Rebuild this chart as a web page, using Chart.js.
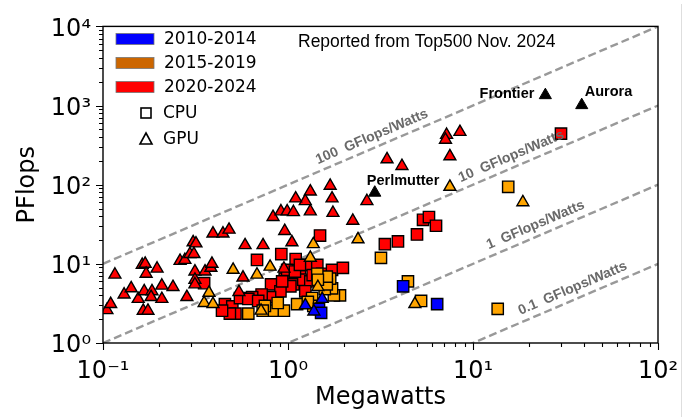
<!DOCTYPE html>
<html>
<head>
<meta charset="utf-8">
<script src="https://cdn.jsdelivr.net/npm/chart.js@4.4.0/dist/chart.umd.min.js"></script>
<style>
  html, body { margin: 0; padding: 0; background: #fff; }
  #wrap { width: 693px; height: 417px; }
</style>
</head>
<body>
<div id="wrap"><canvas id="effChart" width="693" height="417"></canvas></div>
<script>
// power (MW) vs Rmax (PFlops), Top500 Nov. 2024, split by period and architecture
const gpu2020 = [
  [0.105, 2.6], [0.11, 3.1], [0.116, 7.3], [0.13, 4.1], [0.142, 4.9], [0.155, 3.6],
  [0.163, 9.7], [0.169, 10.0], [0.171, 7.5], [0.167, 4.5], [0.184, 4.5], [0.182, 3.8],
  [0.196, 8.7], [0.208, 5.3], [0.208, 3.6], [0.165, 2.55], [0.175, 2.55], [0.239, 5.1],
  [0.261, 10.9], [0.277, 11.2], [0.295, 13.3], [0.307, 18.7], [0.318, 18.1], [0.31, 13.3],
  [0.284, 3.8], [0.314, 8.0], [0.314, 6.3], [0.314, 5.5], [0.356, 8.0], [0.383, 8.9],
  [0.388, 10.0], [0.393, 24.1], [0.445, 24.1], [0.48, 27], [0.586, 17.2], [0.733, 17.2],
  [0.571, 6.7], [0.543, 4.4], [0.951, 8.7], [0.83, 39], [0.916, 46], [0.99, 46],
  [1.07, 45], [1.32, 46], [1.75, 44], [0.96, 26], [1.05, 18.7], [1.69, 97], [1.73, 67],
  [1.32, 82], [1.24, 62], [1.10, 67], [2.24, 35], [2.67, 62], [3.43, 209], [4.13, 172],
  [7.2, 426], [7.1, 370], [8.5, 464], [7.5, 228]
];
const cpu2020 = [
  [0.352, 5.7], [0.68, 11.2], [0.92, 13.3], [0.81, 5.5], [0.96, 6.5], [1.09, 6.5],
  [1.16, 8.7], [1.49, 22.8], [1.27, 9.7], [1.10, 11.5], [0.99, 8.4], [1.07, 5.5],
  [1.21, 6.3], [1.09, 8.0], [1.44, 9.7], [1.53, 7.5], [1.73, 8.4], [1.32, 6.0],
  [1.24, 4.5], [1.03, 5.2], [0.91, 4.5], [0.80, 3.8], [0.72, 4.1], [0.64, 3.8],
  [0.456, 3.1], [0.50, 2.9], [0.52, 2.35], [0.55, 3.7], [0.61, 3.6], [0.69, 3.4],
  [0.485, 2.35], [0.44, 2.56], [1.98, 8.9], [3.34, 17.7], [3.93, 19.2], [4.98, 23.5],
  [5.37, 36], [5.78, 39], [6.31, 30.3], [1.16, 9.7], [0.93, 6.0], [1.49, 5.7], [1.36, 7.2],
  [29.899, 442.01]
];
const gpu2015 = [
  [0.374, 4.3], [0.352, 3.2], [0.393, 3.1], [0.505, 8.4], [0.68, 7.3], [0.80, 9.2],
  [1.32, 11.9], [1.37, 17.7], [1.45, 5.1], [0.715, 2.56], [2.39, 20.4], [7.5, 94],
  [18.6, 60], [4.85, 3.1]
];
const cpu2015 = [
  [15.5, 94], [13.6, 2.7], [3.18, 11.9], [4.45, 6.0], [5.24, 3.4], [1.91, 4.0],
  [1.77, 4.0], [1.73, 4.9], [1.69, 6.5], [1.58, 4.8], [1.62, 5.5], [1.62, 6.9],
  [1.44, 7.5], [1.45, 6.3], [0.61, 2.35], [0.83, 2.56], [0.95, 2.56], [0.88, 3.2],
  [0.75, 2.94], [1.12, 3.1], [1.35, 3.7], [1.37, 2.94], [0.73, 2.56], [1.28, 3.3]
];
const gpu2010 = [[1.53, 3.6], [1.24, 3.0], [1.38, 2.5]];
const cpu2010 = [[1.47, 2.7], [1.51, 2.4], [4.19, 5.2], [6.4, 3.1]];

const namedSystems = ["Frontier", "Aurora", "Perlmutter"];
const namedMW = [24.607, 38.698, 2.945];
const namedPF = [1353, 1012, 79.23];

const efficiencies = [100, 10, 1, 0.1]; // GFlops/W
const efficiencyLabels = ["100  GFlops/Watts", "10  GFlops/Watts", "1  GFlops/Watts", "0.1  GFlops/Watts"];

const mwTicks = [0.1, 1, 10, 100];
const mwTickLabels = ["10\u207B\u00B9", "10\u2070", "10\u00B9", "10\u00B2"];
const pfTicks = [1, 10, 100, 1000, 10000];
const pfTickLabels = ["10\u2070", "10\u00B9", "10\u00B2", "10\u00B3", "10\u2074"];

const periodLabels = ["2010-2014", "2015-2019", "2020-2024"];
const periodPatchColors = ["#0000ff", "#cc6600", "#ff0000"];
const archLabels = ["CPU", "GPU"];
const noteText = "Reported from Top500 Nov. 2024";

const pts = arr => arr.map(([x, y]) => ({x, y}));

function markers(data, color, shape, order) {
  return {
    data: pts(data),
    pointStyle: shape,
    pointRadius: shape === 'rect' ? 8 : 6.9,
    pointBackgroundColor: color,
    pointBorderColor: '#000',
    pointBorderWidth: 1.4,
    showLine: false,
    order: order,
  };
}

const effLines = efficiencies.map(e => ({
  data: [{x: 0.1, y: 0.1 * e}, {x: 100, y: 100 * e}],
  showLine: true,
  borderColor: '#999999',
  borderWidth: 2.4,
  borderDash: [8, 4],
  pointRadius: 0,
  clip: 0,
  order: 20,
}));

// labels along the efficiency lines, names of the big systems, legend, frame
const decor = {
  id: 'decor',
  afterDatasetsDraw(chart) {
    const {ctx, chartArea: a, scales: {x, y}} = chart;
    ctx.save();

    // efficiency line labels, rotated with the line
    const anchorMW = [3.0, 17, 23, 36.5];
    ctx.font = 'bold 14px "Liberation Sans", Arial, sans-serif';
    ctx.fillStyle = '#6a6a6a';
    ctx.textAlign = 'center';
    ctx.textBaseline = 'middle';
    efficiencies.forEach((e, i) => {
      const x1 = x.getPixelForValue(1), y1 = y.getPixelForValue(e);
      const x2 = x.getPixelForValue(10), y2 = y.getPixelForValue(10 * e);
      const ang = Math.atan2(y2 - y1, x2 - x1);
      const px = x.getPixelForValue(anchorMW[i]);
      const py = y.getPixelForValue(anchorMW[i] * e);
      const off = 11;
      ctx.save();
      ctx.translate(px + Math.sin(ang) * off, py - Math.cos(ang) * off);
      ctx.rotate(ang);
      ctx.fillText(efficiencyLabels[i], 0, 0);
      ctx.restore();
    });

    // system names
    const named = chart.getDatasetMeta(0).data;
    ctx.font = 'bold 14.5px "Liberation Sans", Arial, sans-serif';
    ctx.fillStyle = '#000';
    const place = [[-11, -1, 'right'], [3, -13, 'left'], [-8, -12, 'left']];
    named.forEach((p, i) => {
      ctx.textAlign = place[i][2];
      ctx.fillText(namedSystems[i], p.x + place[i][0], p.y + place[i][1]);
    });

    // frame
    ctx.strokeStyle = '#000';
    ctx.lineWidth = 1.4;
    ctx.strokeRect(a.left, a.top, a.right - a.left, a.bottom - a.top);

    // log tick marks, outward
    ctx.lineWidth = 1.1;
    ctx.beginPath();
    for (let e = -1; e <= 2; e++) {
      for (let k = 1; k <= 9; k++) {
        const v = k * Math.pow(10, e);
        if (v > 100.0001) break;
        const px = Math.round(x.getPixelForValue(v)) + 0.5;
        ctx.moveTo(px, a.bottom);
        ctx.lineTo(px, a.bottom + (k === 1 ? 7 : 4));
      }
    }
    for (let e = 0; e <= 4; e++) {
      for (let k = 1; k <= 9; k++) {
        const v = k * Math.pow(10, e);
        if (v > 10000.001) break;
        const py = Math.round(y.getPixelForValue(v)) + 0.5;
        ctx.moveTo(a.left, py);
        ctx.lineTo(a.left - (k === 1 ? 7 : 4), py);
      }
    }
    ctx.stroke();

    // legend
    ctx.font = '17px "DejaVu Sans", sans-serif';
    ctx.textAlign = 'left';
    ctx.textBaseline = 'middle';
    const rowY = [39, 63, 87, 113, 139];
    periodLabels.forEach((lab, i) => {
      ctx.fillStyle = periodPatchColors[i];
      ctx.fillRect(116, rowY[i] - 5.5, 38, 11);
      ctx.strokeStyle = '#777';
      ctx.lineWidth = 0.8;
      ctx.strokeRect(116, rowY[i] - 5.5, 38, 11);
      ctx.fillStyle = '#000';
      ctx.fillText(lab, 164, rowY[i] + 1);
    });
    ctx.strokeStyle = '#000';
    ctx.lineWidth = 1.6;
    ctx.strokeRect(141, rowY[3] - 5, 10, 10);
    ctx.beginPath();
    ctx.moveTo(146, rowY[4] - 6);
    ctx.lineTo(152, rowY[4] + 5);
    ctx.lineTo(140, rowY[4] + 5);
    ctx.closePath();
    ctx.stroke();
    ctx.fillStyle = '#000';
    ctx.fillText(archLabels[0], 163, rowY[3] + 1);
    ctx.fillText(archLabels[1], 163, rowY[4] + 1);

    // source note
    ctx.font = '17.5px "Liberation Sans", Arial, sans-serif';
    ctx.fillText(noteText, 298, 42);

    // thin page edge on the right
    ctx.strokeStyle = '#dedede';
    ctx.lineWidth = 1;
    ctx.beginPath();
    ctx.moveTo(681.5, 4);
    ctx.lineTo(681.5, 417);
    ctx.stroke();

    ctx.restore();
  }
};

const ctx = document.getElementById('effChart').getContext('2d');

new Chart(ctx, {
  type: 'scatter',
  data: {
    datasets: [
      {
        data: namedMW.map((v, i) => ({x: v, y: namedPF[i]})),
        pointStyle: 'triangle',
        pointRadius: 7,
        pointBackgroundColor: '#000',
        pointBorderColor: '#000',
        pointBorderWidth: 1,
        order: 0,
      },
      markers(gpu2010, '#0000ff', 'triangle', 1),
      markers(cpu2010, '#0000ff', 'rect', 2),
      markers(gpu2015, '#ffa500', 'triangle', 3),
      markers(cpu2015, '#ffa500', 'rect', 4),
      markers(gpu2020, '#ff0000', 'triangle', 5),
      markers(cpu2020, '#ff0000', 'rect', 6),
      ...effLines,
    ],
  },
  options: {
    responsive: false,
    devicePixelRatio: 1,
    animation: false,
    layout: { padding: { left: 0, right: 35, top: 20, bottom: 0 } },
    plugins: {
      legend: { display: false },
      tooltip: { enabled: false },
    },
    scales: {
      x: {
        type: 'logarithmic',
        min: 0.1,
        max: 100,
        grid: { display: false, drawTicks: false },
        border: { display: false },
        afterBuildTicks: s => { s.ticks = mwTicks.map(v => ({value: v})); },
        afterFit: s => { s.height = 74; },
        ticks: {
          autoSkip: false,
          maxRotation: 0,
          padding: 14,
          color: '#000',
          font: { family: 'DejaVu Sans', size: 24 },
          callback: (v, i) => mwTickLabels[i],
        },
        title: {
          display: true,
          text: 'Megawatts',
          color: '#000',
          font: { family: 'DejaVu Sans', size: 24 },
          padding: { top: 0, bottom: 5 },
        },
      },
      y: {
        type: 'logarithmic',
        min: 1,
        max: 10000,
        grid: { display: false, drawTicks: false },
        border: { display: false },
        afterBuildTicks: s => { s.ticks = pfTicks.map(v => ({value: v})); },
        afterFit: s => { s.width = 103; },
        ticks: {
          autoSkip: false,
          padding: 12,
          labelOffset: 3,
          color: '#000',
          font: { family: 'DejaVu Sans', size: 24 },
          callback: (v, i) => pfTickLabels[i],
        },
        title: {
          display: true,
          text: 'PFlops',
          color: '#000',
          font: { family: 'DejaVu Sans', size: 24 },
          padding: { top: 13, bottom: 0 },
        },
      },
    },
  },
  plugins: [decor],
});
</script>
</body>
</html>
